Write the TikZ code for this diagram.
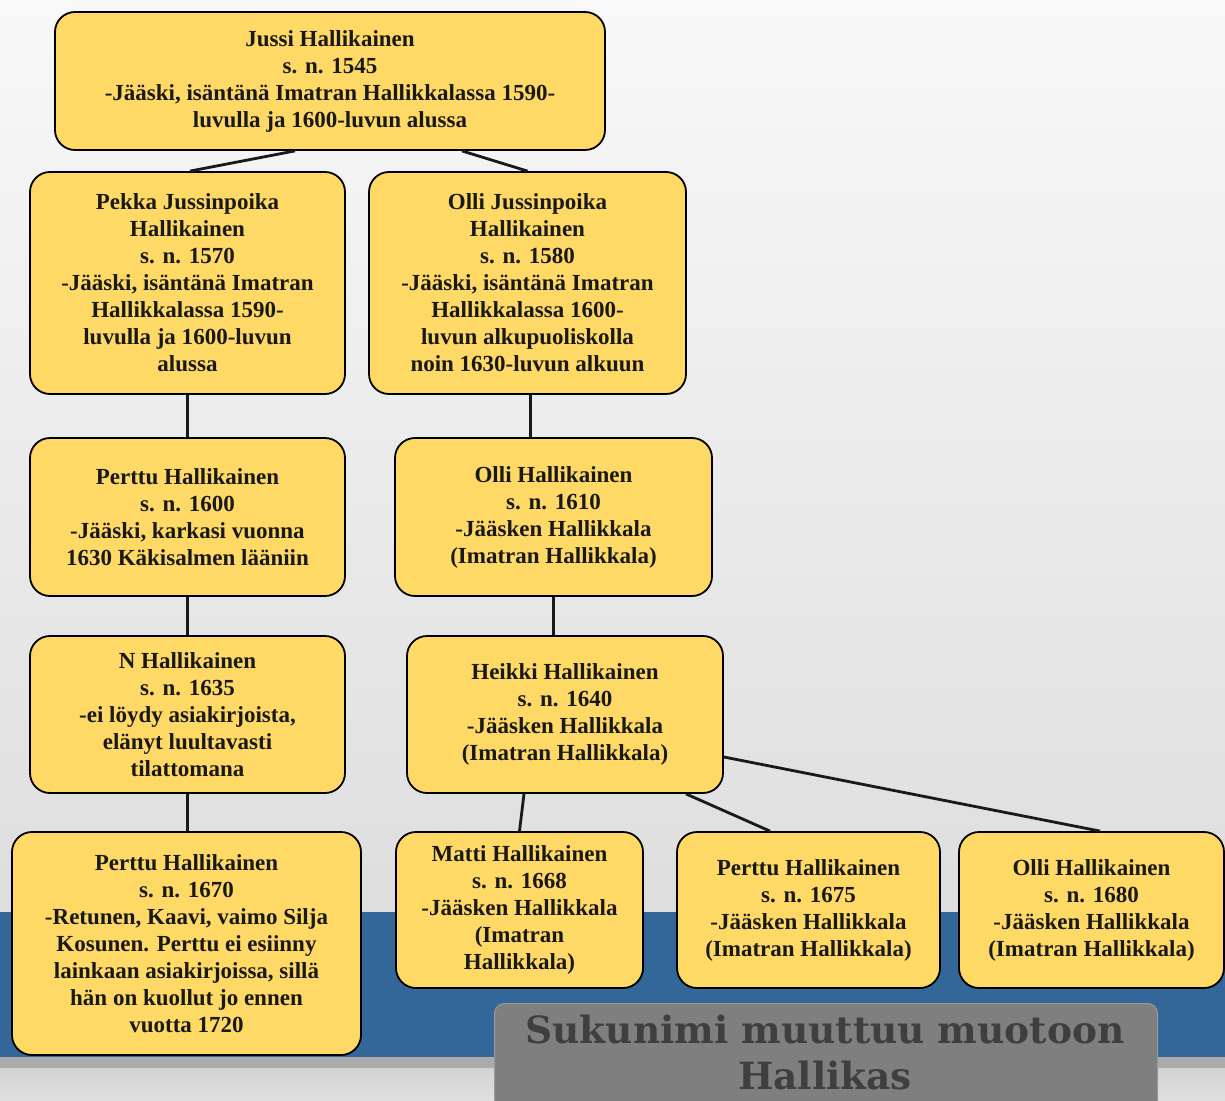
\documentclass[tikz,border=0pt]{standalone}
\usepackage{fontspec}
\setmainfont{Liberation Serif}
\newfontfamily\slabfont{DejaVu Serif}
\usetikzlibrary{calc}
\definecolor{boxyellow}{HTML}{FFD966}
\definecolor{bandblue}{HTML}{336699}
\definecolor{titlegray}{HTML}{7F7F7F}
\definecolor{titletext}{HTML}{3F3F3F}
\definecolor{bgtop}{HTML}{F8F8F8}
\definecolor{bgbot}{HTML}{DEDEDE}
\tikzset{
  person/.style={draw=black, line width=1.8pt, fill=boxyellow, rounded corners=20pt,
    align=center, inner sep=0pt, text=black!90,
    font=\bfseries\fontsize{23}{27}\selectfont},
  link/.style={line width=2.8pt, draw=black!90},
}
\begin{document}
\begin{tikzpicture}[x=1pt,y=-1pt]
\useasboundingbox (0,0) rectangle (1225,1100);
% background
\shade[top color=bgtop, bottom color=bgbot] (0,0) rectangle (1225,912);
\fill[bandblue] (0,912) rectangle (1225,1057);
\fill[gray!90!black!60] (0,1057) rectangle (1225,1068);
\shade[top color=bgbot!95!black, bottom color=bgtop!90!black] (0,1068) rectangle (1225,1100);
% nodes
\node[person, minimum width=550pt, minimum height=138pt] (jussi) at (330,81)
  {Jussi Hallikainen\\s. n. 1545\\-Jääski, isäntänä Imatran Hallikkalassa 1590-\\luvulla ja 1600-luvun alussa};
\node[person, minimum width=315pt, minimum height=222pt] (pekka) at (187.5,283)
  {Pekka Jussinpoika\\Hallikainen\\s. n. 1570\\-Jääski, isäntänä Imatran\\Hallikkalassa 1590-\\luvulla ja 1600-luvun\\alussa};
\node[person, minimum width=317pt, minimum height=222pt] (ollij) at (527.5,283)
  {Olli Jussinpoika\\Hallikainen\\s. n. 1580\\-Jääski, isäntänä Imatran\\Hallikkalassa 1600-\\luvun alkupuoliskolla\\noin 1630-luvun alkuun};
\node[person, minimum width=315pt, minimum height=158pt] (perttua) at (187.5,517)
  {Perttu Hallikainen\\s. n. 1600\\-Jääski, karkasi vuonna\\1630 Käkisalmen lääniin};
\node[person, minimum width=317pt, minimum height=158pt] (ollib) at (553.5,517)
  {Olli Hallikainen\\s. n. 1610\\-Jääsken Hallikkala\\(Imatran Hallikkala)};
\node[person, minimum width=315pt, minimum height=157pt] (nhal) at (187.5,714.5)
  {N Hallikainen\\s. n. 1635\\-ei löydy asiakirjoista,\\elänyt luultavasti\\tilattomana};
\node[person, minimum width=316pt, minimum height=157pt] (heikki) at (565,714.5)
  {Heikki Hallikainen\\s. n. 1640\\-Jääsken Hallikkala\\(Imatran Hallikkala)};
\node[person, minimum width=349pt, minimum height=223pt] (perttub) at (186.5,943.5)
  {Perttu Hallikainen\\s. n. 1670\\-Retunen, Kaavi, vaimo Silja\\Kosunen. Perttu ei esiinny\\lainkaan asiakirjoissa, sillä\\hän on kuollut jo ennen\\vuotta 1720};
\node[person, minimum width=247pt, minimum height=156pt] (matti) at (519.5,910)
  {Matti Hallikainen\\s. n. 1668\\-Jääsken Hallikkala\\(Imatran\\Hallikkala)};
\node[person, minimum width=263pt, minimum height=156pt] (perttuc) at (808.5,910)
  {Perttu Hallikainen\\s. n. 1675\\-Jääsken Hallikkala\\(Imatran Hallikkala)};
\node[person, minimum width=265pt, minimum height=156pt] (ollic) at (1091.5,910)
  {Olli Hallikainen\\s. n. 1680\\-Jääsken Hallikkala\\(Imatran Hallikkala)};
% title box
\node[fill=titlegray, draw=titlegray!80!white, line width=1pt, rounded corners=10pt,
  minimum width=663pt, minimum height=110pt, anchor=north west, inner sep=0pt] (title) at (494,1003) {};
\node[text=titletext, align=center, font=\slabfont\bfseries\fontsize{37.5}{46}\selectfont]
  (titletxt) at (825,1053) {Sukunimi muuttuu muotoon\\Hallikas};
% connectors
\draw[link] ([xshift=-35pt]jussi.south) -- ([xshift=2.5pt]pekka.north);
\draw[link] ([xshift=132pt]jussi.south) -- (ollij.north);
\draw[link] (pekka.south) -- (perttua.north);
\draw[link] ([xshift=3pt]ollij.south) -- ([xshift=-23pt]ollib.north);
\draw[link] (perttua.south) -- (nhal.north);
\draw[link] (ollib.south) -- ([xshift=-11.5pt]heikki.north);
\draw[link] (nhal.south) -- ([xshift=1pt]perttub.north);
\draw[link] ([xshift=-41pt]heikki.south) -- (matti.north);
\draw[link] ([xshift=121pt]heikki.south) -- ([xshift=-38.5pt]perttuc.north);
\draw[link] ([yshift=-42.5pt]heikki.east) -- ([xshift=8.5pt]ollic.north);
\end{tikzpicture}
\end{document}
